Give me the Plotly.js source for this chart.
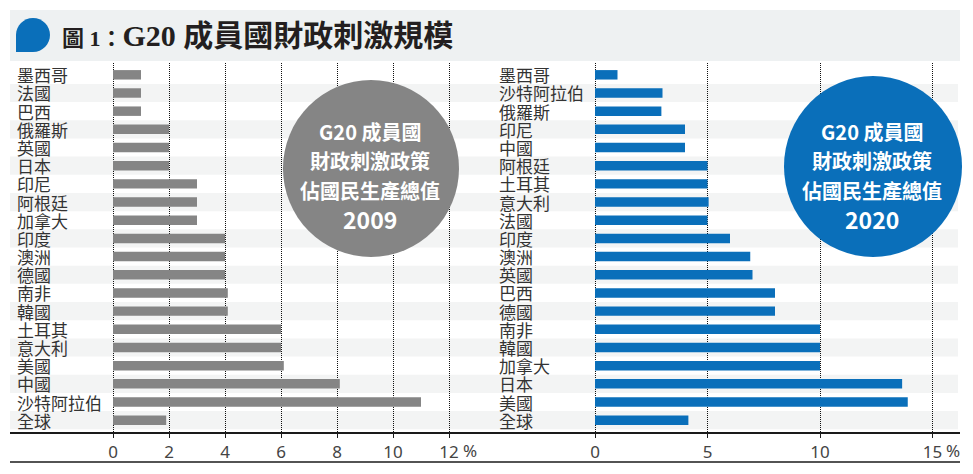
<!DOCTYPE html>
<html>
<head>
<meta charset="utf-8">
<script src="https://cdn.plot.ly/plotly-3.0.1.min.js"></script>
<style>html,body{margin:0;padding:0;background:#fff;}#chart{width:973px;height:474px;}</style>
</head>
<body>
<div id="chart"></div>
<script>
// ---- data ----
const cats2009 = ['墨西哥','法國','巴西','俄羅斯','英國','日本','印尼','阿根廷','加拿大','印度','澳洲','德國','南非','韓國','土耳其','意大利','美國','中國','沙特阿拉伯','全球'];
const vals2009 = [1, 1, 1, 2, 2, 2, 3, 3, 3, 4, 4, 4, 4.1, 4.1, 6, 6, 6.1, 8.1, 11, 1.9];
const cats2020 = ['墨西哥','沙特阿拉伯','俄羅斯','印尼','中國','阿根廷','土耳其','意大利','法國','印度','澳洲','英國','巴西','德國','南非','韓國','加拿大','日本','美國','全球'];
const vals2020 = [1, 3, 2.95, 4, 4, 5, 5, 5.05, 5, 6, 6.9, 7, 8, 8, 10, 10, 10, 13.65, 13.9, 4.15];
const ticks2009 = [0, 2, 4, 6, 8, 10, 12];
const ticks2020 = [0, 5, 10, 15];
const titleText = "<span style='font-size:22px'>圖 1：</span>G20 成員國財政刺激規模";
const bubble2009 = ['G20 成員國', '財政刺激政策', '佔國民生產總值', '2009'];
const bubble2020 = ['G20 成員國', '財政刺激政策', '佔國民生產總值', '2020'];

// ---- geometry helpers (pixel -> paper) ----
const W = 973, H = 474;
const X = px => px / W;
const Y = py => 1 - py / H;

const GREY = '#858585';
const BLUE = '#0a6fba';
const labelFont = {family: 'Noto Sans CJK TC, Noto Sans', size: 17, color: '#333'};
const tickFont = {family: 'Noto Sans, Noto Sans CJK TC', size: 17, color: '#444'};

const traces = [
  {type: 'bar', orientation: 'h', x: vals2009, y: cats2009, xaxis: 'x', yaxis: 'y',
   marker: {color: GREY}, width: 0.52, hoverinfo: 'skip'},
  {type: 'bar', orientation: 'h', x: vals2020, y: cats2020, xaxis: 'x2', yaxis: 'y2',
   marker: {color: BLUE}, width: 0.52, hoverinfo: 'skip'}
];

const shapes = [];
const annotations = [];

// title bar
shapes.push({type: 'rect', xref: 'paper', yref: 'paper', x0: X(10), x1: X(960), y0: Y(61), y1: Y(10),
  fillcolor: '#eef1f2', line: {width: 0}, layer: 'below'});
// speech bubble
const k = 0.5523 * 17;
const P = (x, y) => X(x) + ',' + Y(y);
const bubblePath = 'M' + P(16, 35) +
  ' C' + P(16, 35 - k) + ' ' + P(33 - k, 18) + ' ' + P(33, 18) +
  ' C' + P(33 + k, 18) + ' ' + P(50, 35 - k) + ' ' + P(50, 35) +
  ' C' + P(50, 35 + k) + ' ' + P(33 + k, 52) + ' ' + P(33, 52) +
  ' L' + P(16, 52) + ' Z';
shapes.push({type: 'path', xref: 'paper', yref: 'paper', path: bubblePath, fillcolor: BLUE, line: {width: 0}});
annotations.push({xref: 'paper', yref: 'paper', x: X(60), y: Y(36), xanchor: 'left', yanchor: 'middle',
  text: titleText, showarrow: false,
  font: {family: 'Liberation Serif, Noto Sans CJK TC', size: 30, color: '#231f20', weight: 'bold'}});

// row stripes (odd rows)
const rowTop = 63, rowBottom = 432, r0 = -0.65, r1 = 19.65;
const rowH = (rowBottom - rowTop) / (r1 - r0);
cats2009.forEach((c, i) => {
  if (i % 2 === 1) {
    const yc = rowTop + (i - r0) * rowH;
    shapes.push({type: 'rect', xref: 'paper', yref: 'paper', x0: X(10), x1: X(958),
      y0: Y(yc + rowH / 2), y1: Y(yc - rowH / 2), fillcolor: '#f3f4f4', line: {width: 0}, layer: 'below'});
  }
});

// row labels
cats2009.forEach((c, i) => annotations.push({xref: 'paper', yref: 'y', x: X(15), y: c, xanchor: 'left', yanchor: 'middle',
  text: c, showarrow: false, font: labelFont}));
cats2020.forEach((c, i) => annotations.push({xref: 'paper', yref: 'y2', x: X(497), y: c, xanchor: 'left', yanchor: 'middle',
  text: c, showarrow: false, font: labelFont}));

// percent signs
annotations.push({xref: 'x', yref: 'paper', x: ticks2009[ticks2009.length - 1], xshift: 21, y: Y(450), yanchor: 'middle',
  text: '%', showarrow: false, font: tickFont});
annotations.push({xref: 'x2', yref: 'paper', x: ticks2020[ticks2020.length - 1], xshift: 20, y: Y(450), yanchor: 'middle',
  text: '%', showarrow: false, font: tickFont});

// bottom rule
shapes.push({type: 'line', xref: 'paper', yref: 'paper', x0: X(10), x1: X(960), y0: Y(462), y1: Y(462),
  line: {color: '#1a1a1a', width: 1.5}});

// circles
shapes.push({type: 'circle', xref: 'paper', yref: 'paper', x0: X(283), x1: X(459), y0: Y(257), y1: Y(80),
  fillcolor: GREY, line: {width: 0}});
shapes.push({type: 'circle', xref: 'paper', yref: 'paper', x0: X(784), x1: X(962), y0: Y(257), y1: Y(76),
  fillcolor: BLUE, line: {width: 0}});
const lineYs = [132, 161, 190, 219];
bubble2009.forEach((t, i) => annotations.push({xref: 'paper', yref: 'paper', x: X(370), y: Y(lineYs[i]),
  xanchor: 'center', yanchor: 'middle', text: t, showarrow: false,
  font: {family: 'Noto Sans CJK TC, Noto Sans', size: i === 3 ? 23 : 20, color: '#fff', weight: 'bold'}}));
bubble2020.forEach((t, i) => annotations.push({xref: 'paper', yref: 'paper', x: X(872), y: Y(lineYs[i]),
  xanchor: 'center', yanchor: 'middle', text: t, showarrow: false,
  font: {family: 'Noto Sans CJK TC, Noto Sans', size: i === 3 ? 23 : 20, color: '#fff', weight: 'bold'}}));

const xCommon = {
  showgrid: true, gridcolor: '#111', gridwidth: 1, griddash: '1px,1px', zeroline: false,
  showline: true, linecolor: '#1a1a1a', linewidth: 1.5,
  ticks: 'outside', ticklen: 4, tickwidth: 1, tickcolor: '#1a1a1a',
  tickfont: tickFont, fixedrange: true
};
const yCommon = {
  domain: [Y(rowBottom), Y(rowTop)], type: 'category', range: [r1, r0],
  showticklabels: false, showgrid: false, zeroline: false, showline: false, ticks: '', fixedrange: true
};

const layout = {
  width: W, height: H, margin: {l: 0, r: 0, t: 0, b: 0},
  paper_bgcolor: '#fff', plot_bgcolor: 'rgba(0,0,0,0)', showlegend: false, bargap: 0.48,
  xaxis: Object.assign({}, xCommon, {domain: [X(10), X(480)], anchor: 'y',
    range: [(10 - 113) / 28, (480 - 113) / 28], tickvals: ticks2009, ticktext: ticks2009.map(String)}),
  xaxis2: Object.assign({}, xCommon, {domain: [X(480), X(960)], anchor: 'y2',
    range: [(480 - 595) / 22.5, (960 - 595) / 22.5], tickvals: ticks2020, ticktext: ticks2020.map(String)}),
  yaxis: Object.assign({}, yCommon, {anchor: 'x'}),
  yaxis2: Object.assign({}, yCommon, {anchor: 'x2'}),
  shapes: shapes, annotations: annotations
};

Plotly.newPlot('chart', traces, layout, {staticPlot: true, displayModeBar: false});
</script>
</body>
</html>
